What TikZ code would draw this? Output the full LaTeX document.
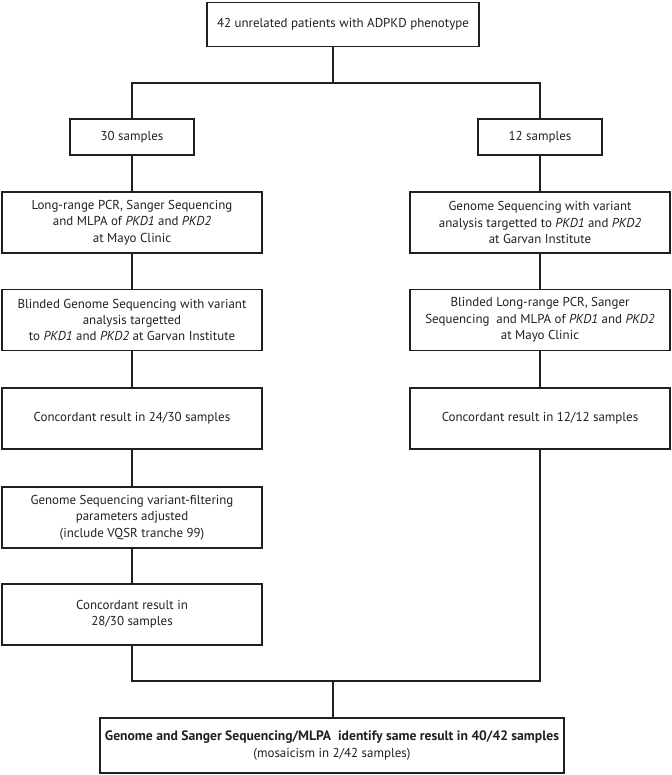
\documentclass[tikz,border=0pt]{standalone}
\usepackage{fontspec}
\setmainfont{PT Sans}
\definecolor{ink}{HTML}{231F20}
\begin{document}
\begin{tikzpicture}[x=0.025cm, y=-0.025cm, line width=0.9pt, draw=ink, text=ink,
        every node/.style={draw=ink, rectangle, align=center, inner sep=2pt,
            font=\fontsize{9.2}{11.6}\selectfont},
        samplebox/.style={minimum width=3.1cm, minimum height=0.9cm},
        stepbox/.style={minimum width=6.5cm, minimum height=1.53cm}]
            \useasboundingbox (0,0) rectangle (671,775);

            % Nodes
            \node[minimum width=6.8cm, minimum height=1.1cm] at (343, 24.5) (top)
                {42 unrelated patients with ADPKD phenotype};
            \node[samplebox] at (132, 137) (s30) {30 samples};
            \node[samplebox] at (540, 137) (s12) {12 samples};

            \node[stepbox] at (132, 222.5) (l1)
                {Long-range PCR, Sanger Sequencing\\and MLPA of \textit{PKD1} and \textit{PKD2}\\at Mayo Clinic};
            \node[stepbox] at (132, 320) (l2)
                {Blinded Genome Sequencing with variant\\analysis targetted\\to \textit{PKD1} and \textit{PKD2} at Garvan Institute};
            \node[stepbox] at (132, 418.5) (l3) {Concordant result in 24/30 samples};
            \node[stepbox] at (132, 517.5) (l4)
                {Genome Sequencing variant-filtering\\parameters adjusted\\(include VQSR tranche 99)};
            \node[stepbox] at (132, 614.5) (l5) {Concordant result in\\28/30 samples};

            \node[stepbox] at (540, 222.5) (r1)
                {Genome Sequencing with variant\\analysis targetted to \textit{PKD1} and \textit{PKD2}\\at Garvan Institute};
            \node[stepbox] at (540, 320) (r2)
                {Blinded Long-range PCR, Sanger\\Sequencing\ \ and MLPA of \textit{PKD1} and \textit{PKD2}\\at Mayo Clinic};
            \node[stepbox] at (540, 418.5) (r3) {Concordant result in 12/12 samples};

            \node[minimum width=11.6cm, minimum height=1.375cm] at (332, 745.5) (res)
                {{\fontsize{9.7}{11.6}\selectfont\bfseries Genome and Sanger Sequencing/MLPA\ \ identify same result in 40/42 samples}\\(mosaicism in 2/42 samples)};

            \coordinate (split) at (333, 83);
            \coordinate (merge) at (333, 681);

            % Edges
            \draw (top.south -| split) -- (split);
            \draw (s30.north) |- (split) -| (s12.north);

            \draw (s30) -- (l1);
            \draw (l1) -- (l2);
            \draw (l2) -- (l3);
            \draw (l3) -- (l4);
            \draw (l4) -- (l5);

            \draw (s12) -- (r1);
            \draw (r1) -- (r2);
            \draw (r2) -- (r3);

            \draw (l5.south) |- (merge) -| (r3.south);
            \draw (merge) -- (res.north -| merge);
        \end{tikzpicture}
\end{document}
